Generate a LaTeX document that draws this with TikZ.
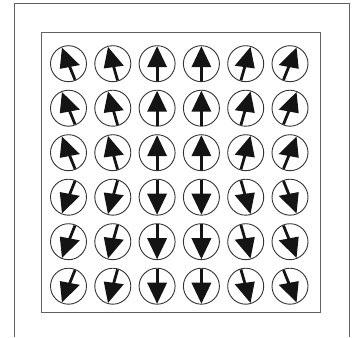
\documentclass[tikz,border=0pt]{standalone}
\begin{document}
\begin{tikzpicture}[x=1pt,y=-1pt]
\useasboundingbox (0,0) rectangle (355,337);
\tikzset{
  frameline/.style={draw=black!62,line width=1pt},
  spinring/.style={circle,draw=black!80,line width=0.9pt,minimum size=36pt,inner sep=0pt},
  spinhead/.style={fill=black!92},
  spinshaft/.style={draw=black!92,line width=2.8pt}
}
\draw[frameline] (14,337) -- (14,4) -- (349,4) -- (349,337);
\draw[frameline] (41,33) rectangle (320,312);
\foreach \i/\a in {0/22,1/16,2/0,3/0,4/-16,5/-22}{
  \foreach \j in {0,...,5}{
    \pgfmathsetmacro\cx{68.5+44.3*\i}
    \pgfmathsetmacro\cy{63.7+44.5*\j}
    \pgfmathsetmacro\r{\j<3 ? \a : 180-(\a)}
    \pgfmathsetmacro\s{\j<3 ? (\a)/11 : -(\a)/11}
    \node[spinring] (c\i\j) at (\cx,\cy) {};
    \begin{scope}[shift={(c\i\j.center)}, rotate=\r]
      \draw[spinshaft] (0,0) -- (0,17.4);
      \fill[spinhead] (0,-17.4) -- (-10,3.5-\s) -- (10,3.5+\s) -- cycle;
    \end{scope}
  }
}
\end{tikzpicture}
\end{document}
